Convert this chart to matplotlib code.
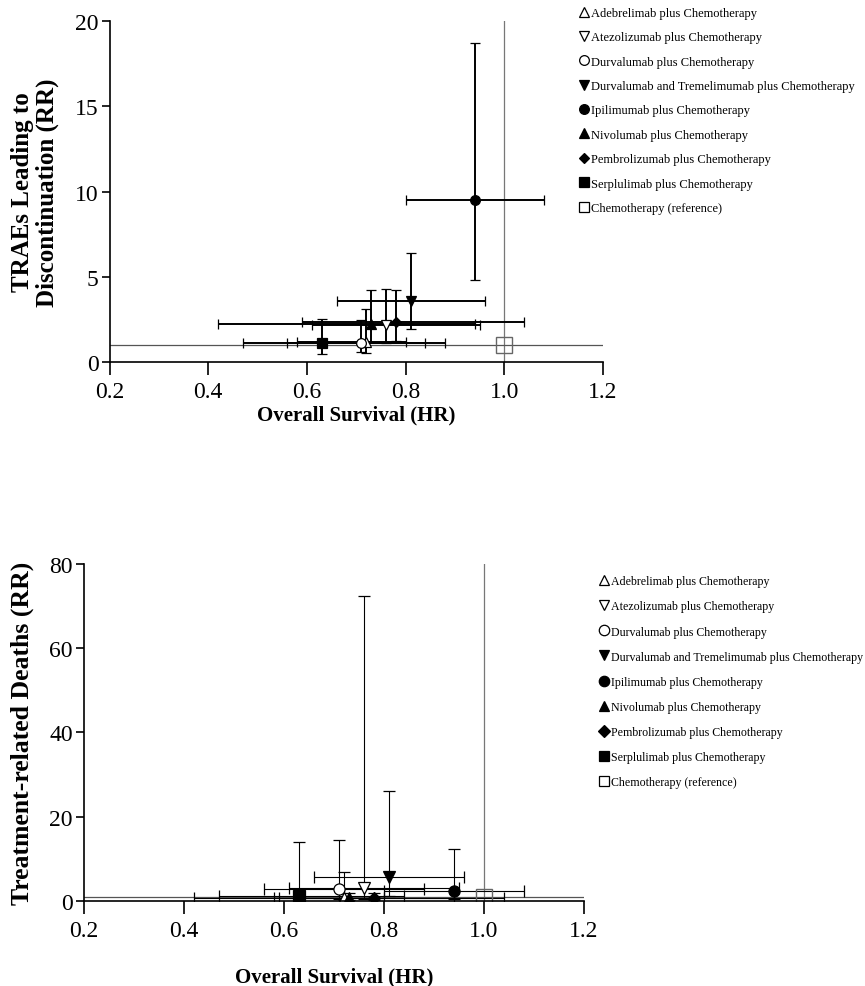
import matplotlib
matplotlib.use('Agg')
import matplotlib.pyplot as plt
from matplotlib.lines import Line2D

plt.rcParams['font.family'] = ['Liberation Serif', 'DejaVu Serif']

treatments = ['Adebrelimab plus Chemotherapy',
              'Atezolizumab plus Chemotherapy',
              'Durvalumab plus Chemotherapy',
              'Durvalumab and Tremelimumab plus Chemotherapy',
              'Ipilimumab plus Chemotherapy',
              'Nivolumab plus Chemotherapy',
              'Pembrolizumab plus Chemotherapy',
              'Serplulimab plus Chemotherapy']
ref_label = 'Chemotherapy (reference)'
marker_list = ['^', 'v', 'o', 'v', 'o', '^', 'D', 's']
filled_list = [False, False, False, True, True, True, True, True]

# Overall survival hazard ratios (shared x values)
os_hr = [0.72, 0.76, 0.71, 0.81, 0.94, 0.73, 0.78, 0.63]
os_lo = [0.58, 0.61, 0.56, 0.66, 0.80, 0.42, 0.59, 0.47]
os_hi = [0.80, 0.95, 0.88, 0.96, 1.08, 0.94, 1.04, 0.84]

# TRAEs leading to discontinuation (RR)
trae_rr = [1.20, 2.20, 1.14, 3.59, 9.51, 2.22, 2.32, 1.14]
trae_lo = [0.55, 1.14, 0.61, 1.92, 4.82, 1.20, 1.24, 0.49]
trae_hi = [3.10, 4.28, 2.45, 6.38, 18.73, 4.22, 4.22, 2.51]

# Treatment-related deaths (RR)
death_rr = [0.60, 3.00, 2.90, 5.60, 2.30, 0.70, 0.70, 1.10]
death_lo = [0.20, 0.40, 0.50, 1.30, 0.40, 0.20, 0.20, 0.10]
death_hi = [6.80, 72.4, 14.5, 26.2, 12.4, 2.00, 2.00, 14.1]

ref_hr = 1.0
ref_rr = 1.0

fig = plt.figure(figsize=(8.65, 9.87), dpi=100)
ax1 = fig.add_axes([0.1266, 0.6322, 0.5705, 0.3455])
ax2 = fig.add_axes([0.0971, 0.0861, 0.578, 0.3415])


def draw(ax, rr, lo, hi, elw, cap, ms, ylim, yticks, refms):
    ax.axvline(ref_hr, color='#777777', lw=0.9, zorder=1)
    ax.axhline(ref_rr, color='#555555', lw=0.9, zorder=1)
    for i in range(len(treatments)):
        fc = 'black' if filled_list[i] else 'white'
        m = marker_list[i]
        size = ms * 0.75 if m == 'D' else ms
        ax.errorbar(os_hr[i], rr[i],
                    xerr=[[os_hr[i] - os_lo[i]], [os_hi[i] - os_hr[i]]],
                    yerr=[[rr[i] - lo[i]], [hi[i] - rr[i]]],
                    fmt=m, mfc=fc, mec='black', ms=size, mew=0.9,
                    ecolor='black', elinewidth=elw, capsize=cap,
                    capthick=elw, zorder=3)
    ax.plot([ref_hr], [ref_rr], marker='s', mfc='none', mec='#666666',
            ms=refms, mew=1.0, ls='none', zorder=4)
    ax.set_xlim(0.2, 1.2)
    ax.set_ylim(*ylim)
    ax.set_xticks([0.2, 0.4, 0.6, 0.8, 1.0, 1.2])
    ax.set_xticklabels(['0.2', '0.4', '0.6', '0.8', '1.0', '1.2'])
    ax.set_yticks(yticks)
    ax.set_yticklabels([str(t) for t in yticks])
    for s in ['top', 'right']:
        ax.spines[s].set_visible(False)
    for s in ['left', 'bottom']:
        ax.spines[s].set_linewidth(1.2)
    ax.spines['bottom'].set_zorder(5)
    ax.tick_params(axis='x', direction='out', length=9, width=1.2,
                   labelsize=17, pad=5)
    ax.tick_params(axis='y', direction='out', length=6, width=1.2,
                   labelsize=17, pad=2)
    ax.set_xlabel('Overall Survival (HR)', fontsize=15, fontweight='bold')


draw(ax1, trae_rr, trae_lo, trae_hi, 1.4, 3.4, 7, (0, 20), [0, 5, 10, 15, 20], 11)
draw(ax2, death_rr, death_lo, death_hi, 0.8, 4.0, 8, (0, 80), [0, 20, 40, 60, 80], 11)

ax1.set_ylabel('TRAEs Leading to\nDiscontinuation (RR)', fontsize=18,
               fontweight='bold', linespacing=1.05)
ax1.yaxis.set_label_coords(-0.103, 0.5)
ax1.xaxis.set_label_coords(0.5, -0.125)
ax2.set_ylabel('Treatment-related Deaths (RR)', fontsize=18.5, fontweight='bold')
ax2.yaxis.set_label_coords(-0.10, 0.5)
ax2.xaxis.set_label_coords(0.5, -0.195)


def legend_handles(ms):
    hs = []
    for i in range(len(treatments)):
        fc = 'black' if filled_list[i] else 'white'
        m = marker_list[i]
        size = ms * 0.75 if m == 'D' else ms
        hs.append(Line2D([], [], marker=m, mfc=fc, mec='black', ms=size,
                         mew=0.9, ls='none'))
    hs.append(Line2D([], [], marker='s', mfc='white', mec='black', ms=ms,
                     mew=0.9, ls='none'))
    return hs


labels = treatments + [ref_label]
fig.legend(legend_handles(7), labels, loc='upper left',
           bbox_to_anchor=(0.664, 0.997), frameon=False, fontsize=9.0,
           handlelength=0.7, handletextpad=0.2, labelspacing=0.99,
           borderaxespad=0.0)
fig.legend(legend_handles(7.5), labels, loc='upper left',
           bbox_to_anchor=(0.688, 0.421), frameon=False, fontsize=8.6,
           handlelength=0.75, handletextpad=0.2, labelspacing=1.1,
           borderaxespad=0.0)

fig.savefig('out.png', dpi=100)
